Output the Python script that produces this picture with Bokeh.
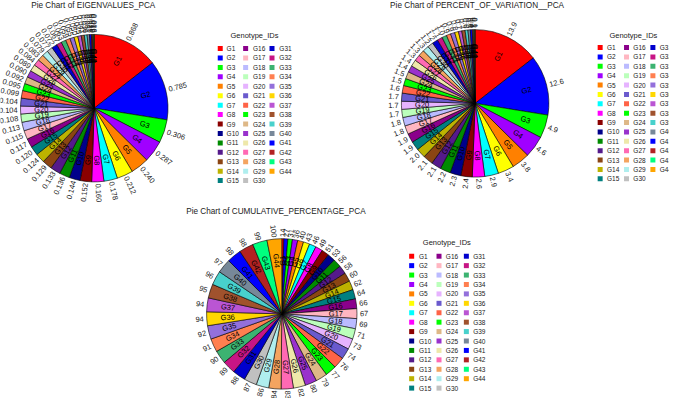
import numpy as np
from bokeh.plotting import figure
from bokeh.models import Range1d, ColumnDataSource
from bokeh.embed import file_html
from bokeh.resources import INLINE
from bokeh.core.properties import value

# ---------------- data ----------------
genotypes = [f"G{i}" for i in range(1, 45)]

colors = ["#FF0000", "#0000FF", "#00FF00", "#A000FF", "#FF8000", "#FFFF00", "#00FFFF",
          "#FF00FF", "#8B0000", "#00008B", "#008B00", "#551A8B", "#8B4513", "#BDB300",
          "#008080", "#8B008B", "#FFB6C1", "#BBBBFF", "#BBFFBB", "#E6B3FF", "#6A5ACD",
          "#FF6347", "#00FF00", "#DEB887", "#9932CC", "#EEE8AA", "#FF69B4", "#F4A460",
          "#AFEEEE", "#C0C0C0", "#0000CD", "#C71585", "#3CB371", "#FF7F50", "#9370DB",
          "#FFD700", "#BA55D3", "#A0522D", "#48D1CC", "#778899", "#0000FF", "#B22222",
          "#00FF7F", "#FFA500"]

eigenvalues = [0.868, 0.785, 0.306, 0.287, 0.240, 0.212, 0.178, 0.160, 0.152, 0.144,
               0.136, 0.133, 0.129, 0.124, 0.120, 0.117, 0.115, 0.113, 0.108, 0.104,
               0.104, 0.099, 0.095, 0.092, 0.090, 0.089, 0.084, 0.083, 0.079, 0.077,
               0.072, 0.067, 0.063, 0.059, 0.055, 0.050, 0.045, 0.041, 0.036, 0.031,
               0.025, 0.019, 0.012, 0.006]

percent_variation = [13.9, 12.6, 4.9, 4.6, 3.8, 3.4, 2.9, 2.6, 2.4, 2.3,
                     2.2, 2.1, 2.1, 2.0, 1.9, 1.9, 1.8, 1.8, 1.7, 1.7,
                     1.7, 1.6, 1.5, 1.5, 1.4, 1.4, 1.3, 1.3, 1.3, 1.2,
                     1.2, 1.1, 1.0, 0.9, 0.9, 0.8, 0.7, 0.7, 0.6, 0.5,
                     0.4, 0.3, 0.2, 0.1]

cumulative_percentage = [14, 27, 31, 36, 40, 43, 46, 49, 51, 53,
                         56, 58, 60, 62, 64, 66, 67, 69, 71, 73,
                         74, 76, 77, 79, 80, 82, 83, 84, 86, 87,
                         88, 89, 90, 91, 92, 94, 94, 95, 96, 97,
                         98, 98, 99, 100]

titles = ["Pie Chart of EIGENVALUES_PCA",
          "Pie Chart of PERCENT_OF_VARIATION__PCA",
          "Pie Chart of CUMULATIVE_PERCENTAGE_PCA"]
legend_title = "Genotype_IDs"

FONT = "Liberation Sans"
W_REF, H_REF = 685, 414

p = figure(width=669, height=398, x_range=Range1d(0, W_REF), y_range=Range1d(0, H_REF),
           output_backend="svg", toolbar_location=None, min_border=0,
           x_axis_location=None, y_axis_location=None)
p.grid.visible = False
p.outline_line_color = None


def Y(ry):
    return H_REF - ry


def draw_pie(vals, fmt, cx, cy, r, title, tx, ty):
    v = np.asarray(vals, dtype=float)
    frac = v / v.sum()
    c1 = np.cumsum(frac)
    c0 = c1 - frac
    start = np.pi / 2 - 2 * np.pi * c0
    end = np.pi / 2 - 2 * np.pi * c1
    mid = (start + end) / 2
    a = (mid + np.pi) % (2 * np.pi) - np.pi
    right = np.cos(a) >= 0
    rot = np.where(right, a, a - np.pi)
    src = ColumnDataSource(dict(
        start=start, end=end, color=colors, name=genotypes,
        gx=cx + 0.72 * r * np.cos(mid), gy=Y(cy) + 0.72 * r * np.sin(mid),
        vx=cx + (r + 3) * np.cos(mid), vy=Y(cy) + (r + 3) * np.sin(mid),
        rot=rot, align=np.where(right, "left", "right"),
        lab=[fmt(x) for x in vals]))
    p.wedge(x=cx, y=Y(cy), radius=r, start_angle="start", end_angle="end",
            direction="clock", fill_color="color", line_color="black",
            line_width=0.6, source=src)
    p.text(x="gx", y="gy", text="name", angle="rot", text_align="center",
           text_baseline="middle", text_font=value(FONT), text_font_size="7.5px",
           text_color="black", source=src)
    p.text(x="vx", y="vy", text="lab", angle="rot", text_align="align",
           text_baseline="middle", text_font=value(FONT), text_font_size="7.5px",
           text_color="#222222", source=src)
    p.text(x=[tx], y=[Y(ty)], text=[title], text_align="center",
           text_baseline="middle", text_font=value(FONT), text_font_size="8.2px",
           text_color="#222222")


def draw_legend(x_sw, x_tx, y0, dy, title_x, title_y):
    n = len(genotypes)
    col = np.arange(n) // 15
    row = np.arange(n) % 15
    src = ColumnDataSource(dict(
        sx=[x_sw[c] for c in col], tx=[x_tx[c] for c in col],
        y=[Y(y0 + rr * dy) for rr in row], color=colors, name=genotypes))
    p.scatter(x="sx", y="y", marker="square", size=5, fill_color="color",
              line_color=None, source=src)
    p.text(x="tx", y="y", text="name", text_align="left", text_baseline="middle",
           text_font=value(FONT), text_font_size="6.5px", text_color="#222222",
           source=src)
    p.text(x=[title_x], y=[Y(title_y)], text=[legend_title], text_align="center",
           text_baseline="middle", text_font=value(FONT), text_font_size="7.5px",
           text_color="#222222")


draw_pie(eigenvalues, lambda x: f"{x:.3f}", 96, 112, 75.5, titles[0], 95, 5)
draw_pie(percent_variation, lambda x: f"{x:.1f}", 486, 107, 75.5, titles[1], 488, 5)
draw_pie(cumulative_percentage, lambda x: f"{x:.0f}", 288, 326, 77, titles[2], 282, 219)

draw_legend([225, 251, 278], [231.5, 258.5, 285.5], 50, 9.81, 260, 36)
draw_legend([614, 641, 668], [621, 648, 675], 49, 9.75, 648, 36)
draw_legend([421, 449, 477], [428.5, 456, 484], 266, 9.8, 457, 252)

open("out.html", "w").write(file_html(p, INLINE))
